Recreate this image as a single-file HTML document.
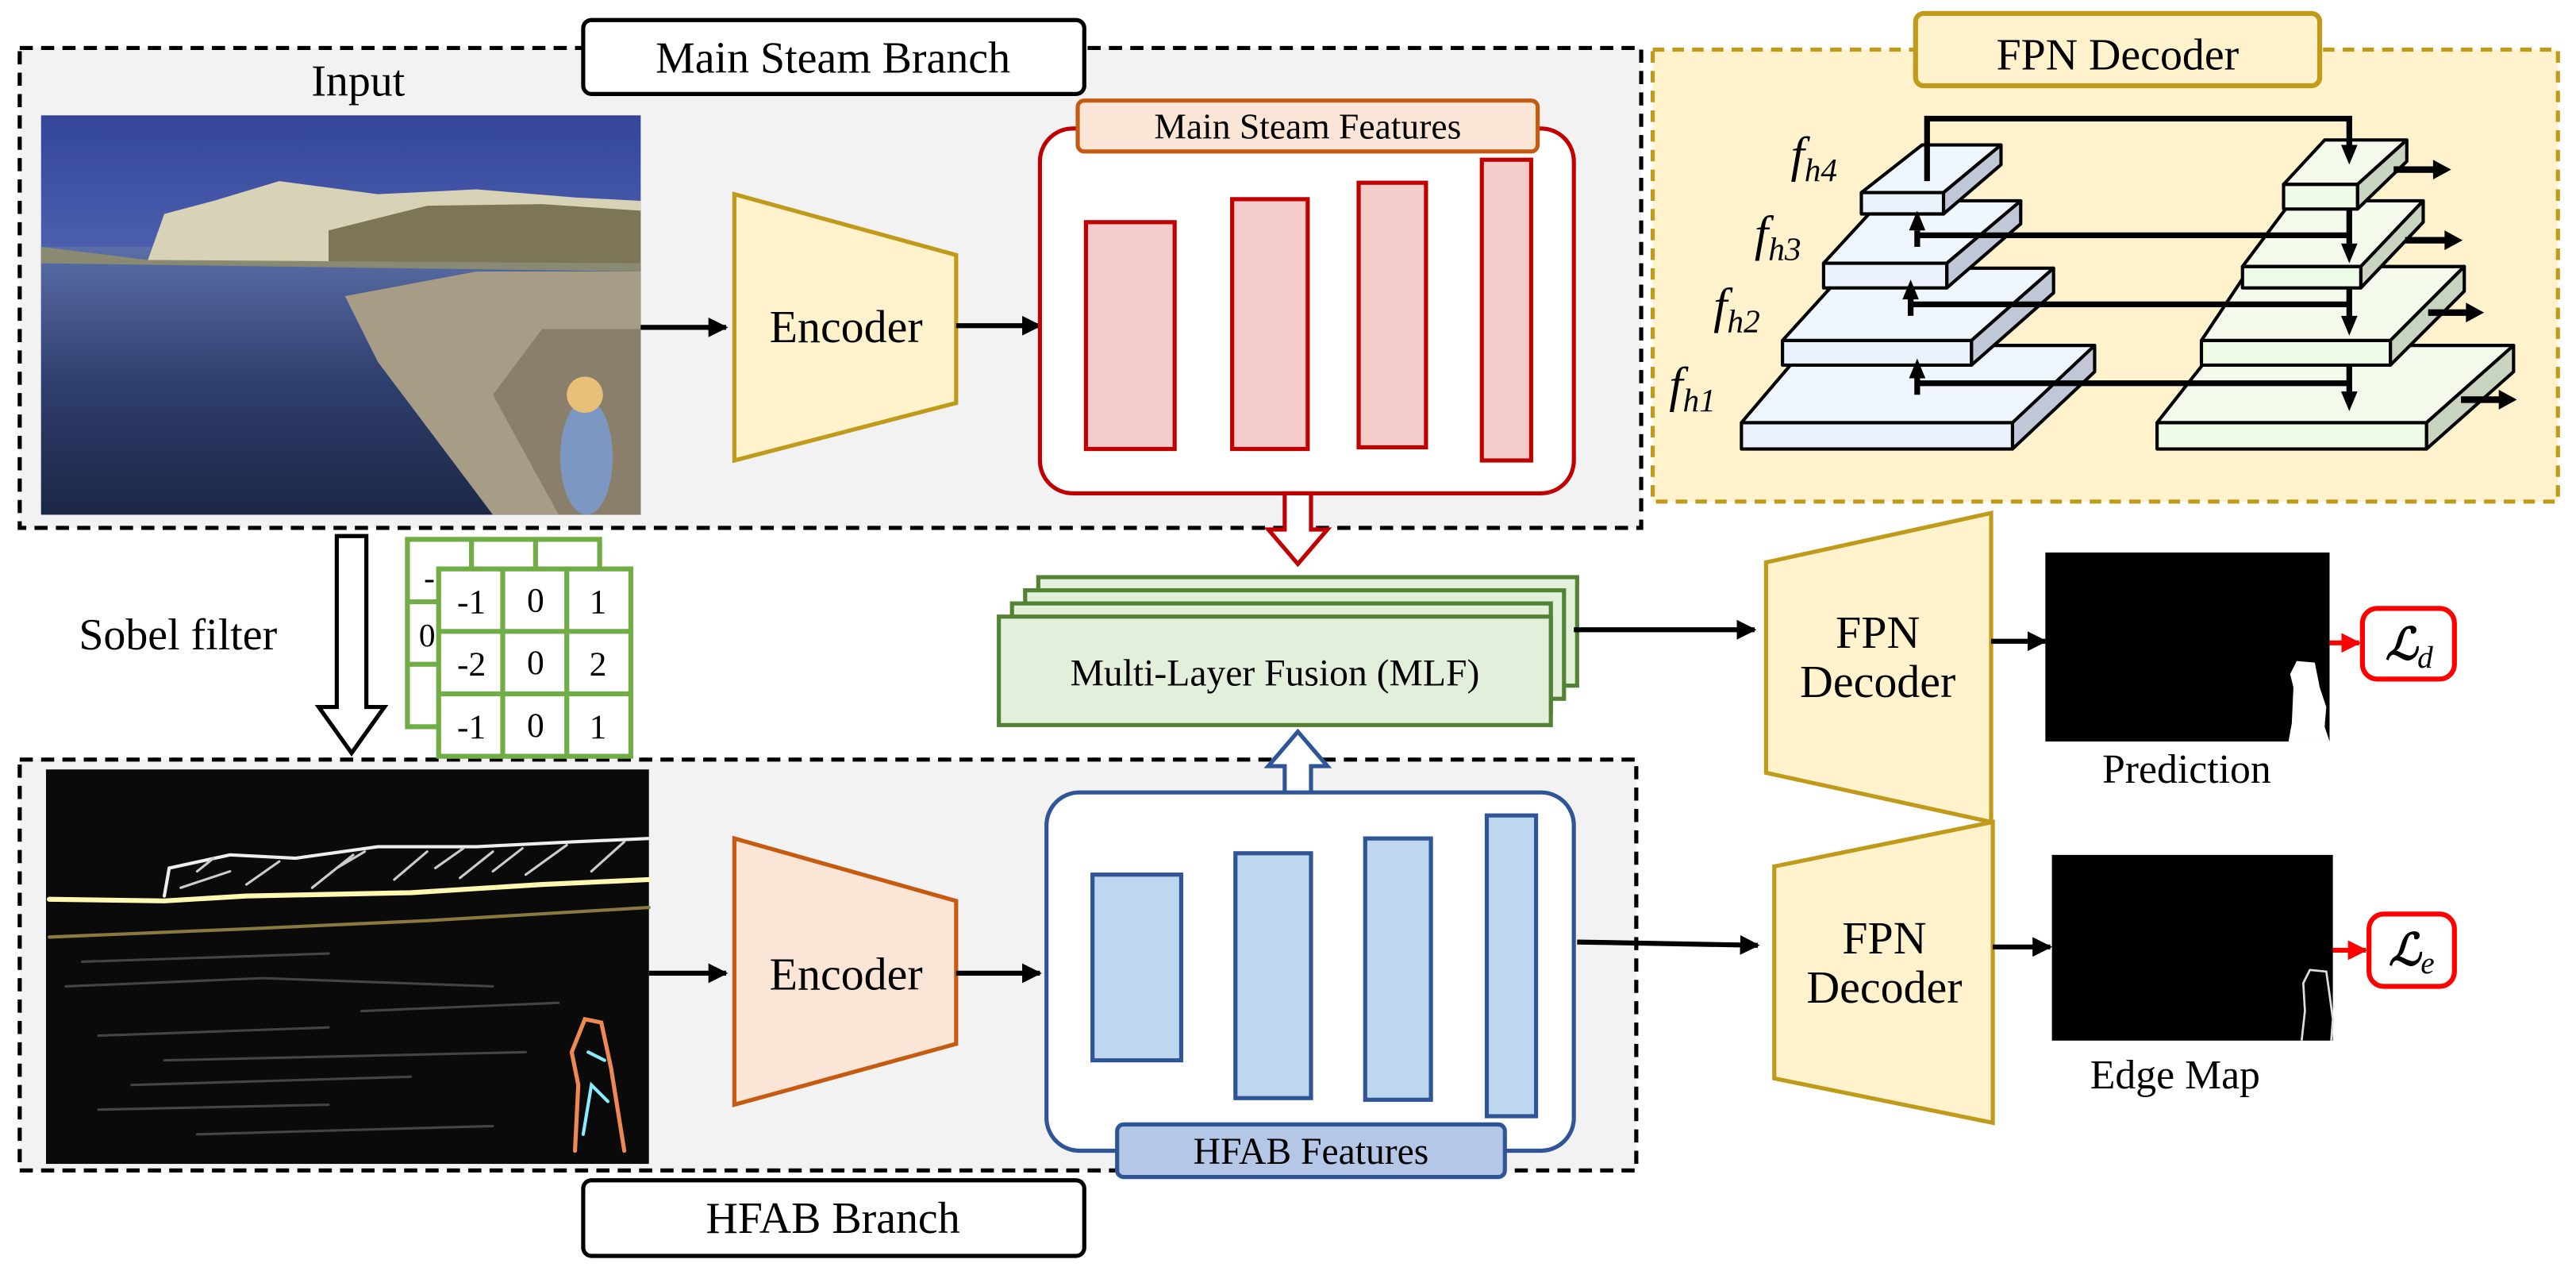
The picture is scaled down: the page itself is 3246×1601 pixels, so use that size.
<!DOCTYPE html>
<html><head><meta charset="utf-8"><style>
html,body{margin:0;padding:0;background:#fff;}
svg{display:block;}
</style></head><body>
<svg width="3246" height="1601" viewBox="0 0 1568 773" xmlns="http://www.w3.org/2000/svg" font-family="'Liberation Serif', 'DejaVu Serif', serif">
<defs>
<marker id="ah" viewBox="0 0 10 10" refX="9" refY="5" markerWidth="4" markerHeight="4" orient="auto"><path d="M0,0L10,5L0,10z" fill="#000"/></marker>
<marker id="ahr" viewBox="0 0 10 10" refX="9" refY="5" markerWidth="4" markerHeight="4" orient="auto"><path d="M0,0L10,5L0,10z" fill="#f00"/></marker>
<linearGradient id="sky" x1="0" y1="0" x2="0" y2="1"><stop offset="0" stop-color="#34459a"/><stop offset="1" stop-color="#7d92d4"/></linearGradient>
<linearGradient id="sea" x1="0" y1="0" x2="0" y2="1"><stop offset="0" stop-color="#5a6fa8"/><stop offset="0.5" stop-color="#2f3f6e"/><stop offset="1" stop-color="#1c2746"/></linearGradient>
</defs>

<!-- Top dashed branch -->
<rect x="12" y="29" width="987" height="292" fill="#f2f2f2" stroke="#000" stroke-width="2.5" stroke-dasharray="8,5"/>
<rect x="355" y="12" width="305" height="45" rx="5" fill="#fff" stroke="#000" stroke-width="2.5"/>
<text x="507" y="44" font-size="27" text-anchor="middle">Main Steam Branch</text>
<text x="218" y="58" font-size="27" text-anchor="middle">Input</text>

<!-- Input photo -->
<g>
<rect x="25" y="70" width="365" height="243" fill="url(#sky)"/>
<rect x="25" y="150" width="365" height="163" fill="url(#sea)"/>
<path d="M90,158 L100,130 L130,122 L170,110 L230,118 L290,115 L350,120 L390,122 L390,162 L90,160z" fill="#d8d2b6"/>
<path d="M200,140 L260,125 L330,124 L390,128 L390,162 L200,160z" fill="#7d7656"/>
<path d="M25,150 L90,158 L390,160 L390,165 L25,160z" fill="#8a8a72"/>
<path d="M390,165 L290,165 L210,180 L230,220 L300,313 L390,313z" fill="#a79d86"/>
<path d="M390,200 L330,200 L300,240 L340,313 L390,313z" fill="#8a7f6a"/>
<ellipse cx="357" cy="278" rx="16" ry="35" fill="#7c98c2"/>
<circle cx="356" cy="240" r="11" fill="#e8c07a"/>
</g>

<line x1="390" y1="199" x2="442" y2="199" stroke="#000" stroke-width="3" marker-end="url(#ah)"/>
<path d="M447,118 L582,155 L582,245 L447,280z" fill="#fff2cc" stroke="#c09a1a" stroke-width="2.5"/>
<text x="515" y="208" font-size="28" text-anchor="middle">Encoder</text>
<line x1="582" y1="198" x2="633" y2="198" stroke="#000" stroke-width="3" marker-end="url(#ah)"/>

<rect x="633" y="78" width="325" height="222" rx="20" fill="#fff" stroke="#c00000" stroke-width="2.5"/>
<rect x="656" y="61" width="280" height="31" rx="4" fill="#fbe5d6" stroke="#c55a11" stroke-width="2.5"/>
<text x="796" y="84" font-size="22" text-anchor="middle">Main Steam Features</text>
<g fill="#f4cccc" stroke="#c00000" stroke-width="2.5">
<rect x="661" y="135" width="54" height="138"/>
<rect x="750" y="121" width="46" height="152"/>
<rect x="827" y="111" width="41" height="161"/>
<rect x="902" y="97" width="30" height="183"/>
</g>
<path d="M782,300 L798,300 L798,322 L808,322 L790,343 L772,322 L782,322z" fill="#fff" stroke="#c00000" stroke-width="2.5"/>

<!-- MLF stacked -->
<g fill="#e2efda" stroke="#548235" stroke-width="2.5">
<rect x="632" y="351" width="328" height="66"/>
<rect x="624" y="359" width="328" height="66"/>
<rect x="616" y="367" width="328" height="66"/>
<rect x="608" y="375" width="336" height="66"/>
</g>
<text x="776" y="417" font-size="23" text-anchor="middle">Multi-Layer Fusion (MLF)</text>
<line x1="958" y1="383" x2="1068" y2="383" stroke="#000" stroke-width="3" marker-end="url(#ah)"/>

<!-- FPN decoder 1 -->
<path d="M1075,342 L1212,312 L1212,500 L1075,470z" fill="#fff2cc" stroke="#c09a1a" stroke-width="2.5"/>
<text x="1143" y="394" font-size="28" text-anchor="middle">FPN</text>
<text x="1143" y="424" font-size="28" text-anchor="middle">Decoder</text>
<line x1="1212" y1="390" x2="1245" y2="390" stroke="#000" stroke-width="3" marker-end="url(#ah)"/>
<rect x="1245" y="336" width="173" height="115" fill="#000"/>
<path d="M1393,451 L1395,440 L1396,418 L1394,410 L1398,402 L1409,403 L1412,418 L1416,430 L1415,442 L1418,451z" fill="#fff"/>
<text x="1331" y="476" font-size="25" text-anchor="middle">Prediction</text>
<line x1="1418" y1="391" x2="1436" y2="391" stroke="#f00" stroke-width="3" marker-end="url(#ahr)"/>
<rect x="1438" y="370" width="56" height="43" rx="9" fill="#fff" stroke="#f00" stroke-width="3"/>
<text x="1452" y="401" font-size="27" font-style="italic" font-weight="bold">ℒ<tspan font-size="19" dy="5" font-weight="normal">d</tspan></text>

<!-- Bottom dashed branch -->
<rect x="12" y="462" width="984" height="250" fill="#f2f2f2" stroke="#000" stroke-width="2.5" stroke-dasharray="8,5"/>
<rect x="355" y="718" width="305" height="46" rx="5" fill="#fff" stroke="#000" stroke-width="2.5"/>
<text x="507" y="750" font-size="27" text-anchor="middle">HFAB Branch</text>

<!-- hollow blue arrow up -->
<path d="M782,484 L798,484 L798,466 L808,466 L790,445 L772,466 L782,466z" fill="#fff" stroke="#2f5597" stroke-width="2.5"/>

<!-- Edge image -->
<rect x="28" y="468" width="367" height="240" fill="#0a0a0a"/>
<g fill="none" stroke-linecap="round">
<path d="M30,547 L100,548 L150,545 L250,543 L330,538 L395,535" stroke="#fff8b0" stroke-width="3"/>
<path d="M100,545 L103,528 L140,520 L180,522 L230,515 L290,515 L350,512 L395,510" stroke="#eee" stroke-width="2"/>
<path d="M110,540 L140,530 M150,538 L170,524 M190,540 L215,520 M240,535 L260,518 M280,534 L300,518 M320,532 L345,514 M360,530 L380,512 M120,530 L130,522 M205,528 L222,518 M265,528 L282,516 M300,530 L318,516" stroke="#ccc" stroke-width="1.5"/>
<path d="M30,570 L150,565 L260,560 L395,552" stroke="#8a7a40" stroke-width="2"/>
<path d="M40,600 L160,595 L300,600 M60,630 L200,625 M80,660 L250,655 M120,690 L300,685 M50,585 L200,580 M220,615 L340,610 M100,645 L320,640 M60,675 L200,672" stroke="#444" stroke-width="1.5"/>
<path d="M350,700 L352,660 L348,640 L356,620 L366,622 L372,650 L380,700" stroke="#e85" stroke-width="2.5"/>
<path d="M355,690 L360,660 L370,670 M358,640 L368,645" stroke="#8ef" stroke-width="2"/>
</g>

<line x1="395" y1="592" x2="442" y2="592" stroke="#000" stroke-width="3" marker-end="url(#ah)"/>
<path d="M447,510 L582,548 L582,635 L447,672z" fill="#fbe5d6" stroke="#c55a11" stroke-width="2.5"/>
<text x="515" y="602" font-size="28" text-anchor="middle">Encoder</text>
<line x1="582" y1="592" x2="633" y2="592" stroke="#000" stroke-width="3" marker-end="url(#ah)"/>

<rect x="637" y="482" width="321" height="218" rx="20" fill="#fff" stroke="#2f5597" stroke-width="2.5"/>
<g fill="#bdd7ee" stroke="#2f5597" stroke-width="2.5">
<rect x="665" y="532" width="54" height="113"/>
<rect x="752" y="519" width="46" height="149"/>
<rect x="831" y="510" width="40" height="159"/>
<rect x="905" y="496" width="30" height="183"/>
</g>
<rect x="680" y="684" width="236" height="32" rx="4" fill="#b4c7e7" stroke="#2f5597" stroke-width="2.5"/>
<text x="798" y="708" font-size="23" text-anchor="middle">HFAB Features</text>
<line x1="960" y1="573" x2="1070" y2="575" stroke="#000" stroke-width="3" marker-end="url(#ah)"/>

<!-- FPN decoder 2 -->
<path d="M1080,527 L1213,500 L1213,683 L1080,656z" fill="#fff2cc" stroke="#c09a1a" stroke-width="2.5"/>
<text x="1147" y="580" font-size="28" text-anchor="middle">FPN</text>
<text x="1147" y="610" font-size="28" text-anchor="middle">Decoder</text>
<line x1="1213" y1="576" x2="1248" y2="576" stroke="#000" stroke-width="3" marker-end="url(#ah)"/>
<rect x="1249" y="520" width="171" height="113" fill="#000"/>
<path d="M1401,633 L1403,615 L1402,598 L1406,590 L1416,591 L1418,605 L1420,620 L1419,633" fill="none" stroke="#ddd" stroke-width="1.3"/>
<text x="1324" y="662" font-size="25" text-anchor="middle">Edge Map</text>
<line x1="1420" y1="578" x2="1440" y2="578" stroke="#f00" stroke-width="3" marker-end="url(#ahr)"/>
<rect x="1442" y="556" width="52" height="44" rx="9" fill="#fff" stroke="#f00" stroke-width="3"/>
<text x="1454" y="587" font-size="27" font-style="italic" font-weight="bold">ℒ<tspan font-size="19" dy="5" font-weight="normal">e</tspan></text>

<!-- Sobel -->
<text x="48" y="395" font-size="27">Sobel filter</text>
<path d="M205,326 L223,326 L223,430 L234,430 L214,458 L194,430 L205,430z" fill="#fff" stroke="#000" stroke-width="2.5"/>
<g stroke="#70ad47" stroke-width="3" fill="#fff">
<rect x="248" y="328" width="117" height="114"/>
<line x1="287" y1="328" x2="287" y2="442"/><line x1="326" y1="328" x2="326" y2="442"/>
<line x1="248" y1="366" x2="365" y2="366"/><line x1="248" y1="404" x2="365" y2="404"/>
</g>
<text x="258" y="358" font-size="20">-1</text><text x="300" y="358" font-size="20">-2</text><text x="340" y="358" font-size="20">-1</text>
<text x="255" y="393" font-size="20">0</text>
<g stroke="#70ad47" stroke-width="3" fill="#fff">
<rect x="267" y="346" width="117" height="114"/>
<line x1="306" y1="346" x2="306" y2="460"/><line x1="345" y1="346" x2="345" y2="460"/>
<line x1="267" y1="384" x2="384" y2="384"/><line x1="267" y1="422" x2="384" y2="422"/>
</g>
<g font-size="21" text-anchor="middle">
<text x="287" y="373">-1</text><text x="326" y="372">0</text><text x="364" y="373">1</text>
<text x="287" y="411">-2</text><text x="326" y="410">0</text><text x="364" y="411">2</text>
<text x="287" y="449">-1</text><text x="326" y="448">0</text><text x="364" y="449">1</text>
</g>

<!-- FPN Decoder panel -->
<rect x="1006" y="30" width="551" height="275" fill="#fff2cc" stroke="#c09a1a" stroke-width="2.5" stroke-dasharray="7,5"/>
<rect x="1166" y="8" width="246" height="44" rx="5" fill="#fff2cc" stroke="#c09a1a" stroke-width="3"/>
<text x="1289" y="42" font-size="27" text-anchor="middle">FPN  Decoder</text>

<g stroke="#000" stroke-width="2" stroke-linejoin="round">
<path d="M1060,257 L1100,210 L1275,210 L1235,257z" fill="#f0f6fd"/>
<path d="M1225,257 L1275,210 L1275,226 L1225,273z" fill="#c0c8d8"/>
<rect x="1060" y="257" width="165" height="16" fill="#eaf1fb"/>
<path d="M1085,207 L1125,163 L1250,163 L1200,207z" fill="#f0f6fd"/>
<path d="M1200,207 L1250,163 L1250,178 L1200,222z" fill="#c0c8d8"/>
<rect x="1085" y="207" width="115" height="15" fill="#eaf1fb"/>
<path d="M1110,160 L1145,122 L1230,122 L1185,160z" fill="#f0f6fd"/>
<path d="M1185,160 L1230,122 L1230,136 L1185,175z" fill="#c0c8d8"/>
<rect x="1110" y="160" width="75" height="15" fill="#eaf1fb"/>
<path d="M1133,117 L1170,88 L1218,88 L1183,117z" fill="#f0f6fd"/>
<path d="M1183,117 L1218,88 L1218,100 L1183,130z" fill="#c0c8d8"/>
<rect x="1133" y="117" width="50" height="13" fill="#eaf1fb"/>
<path d="M1313,257 L1350,210 L1530,210 L1477,257z" fill="#f3faec"/>
<path d="M1477,257 L1530,210 L1530,226 L1477,273z" fill="#c8d3c0"/>
<rect x="1313" y="257" width="164" height="16" fill="#eefbe6"/>
<path d="M1340,207 L1370,162 L1500,162 L1455,207z" fill="#f3faec"/>
<path d="M1455,207 L1500,162 L1500,177 L1455,222z" fill="#c8d3c0"/>
<rect x="1340" y="207" width="115" height="15" fill="#eefbe6"/>
<path d="M1365,162 L1395,122 L1475,122 L1437,162z" fill="#f3faec"/>
<path d="M1437,162 L1475,122 L1475,135 L1437,175z" fill="#c8d3c0"/>
<rect x="1365" y="162" width="72" height="13" fill="#eefbe6"/>
<path d="M1390,112 L1415,85 L1465,85 L1435,112z" fill="#f3faec"/>
<path d="M1435,112 L1465,85 L1465,98 L1435,127z" fill="#c8d3c0"/>
<rect x="1390" y="112" width="45" height="15" fill="#eefbe6"/>
</g>
<g stroke="#000" stroke-width="3.5" fill="none">
<path d="M1173,110 L1173,72 L1430,72 L1430,92"/>
<line x1="1167" y1="143" x2="1430" y2="143"/>
<line x1="1163" y1="185" x2="1430" y2="185"/>
<line x1="1167" y1="233" x2="1430" y2="233"/>
<line x1="1430" y1="127" x2="1430" y2="152"/>
<line x1="1430" y1="175" x2="1430" y2="196"/>
<line x1="1430" y1="222" x2="1430" y2="242"/>
<line x1="1167" y1="150" x2="1167" y2="140"/>
<line x1="1163" y1="192" x2="1163" y2="180"/>
<line x1="1167" y1="240" x2="1167" y2="228"/>
</g>
<g fill="#000">
<path d="M1425,88 L1435,88 L1430,100z"/>
<path d="M1425,148 L1435,148 L1430,160z"/>
<path d="M1425,192 L1435,192 L1430,204z"/>
<path d="M1425,238 L1435,238 L1430,250z"/>
<path d="M1162,140 L1172,140 L1167,128z"/>
<path d="M1158,182 L1168,182 L1163,170z"/>
<path d="M1162,230 L1172,230 L1167,218z"/>
</g>
<g stroke="#000" stroke-width="4">
<line x1="1457" y1="103" x2="1482" y2="103"/>
<line x1="1464" y1="146" x2="1489" y2="146"/>
<line x1="1478" y1="190" x2="1502" y2="190"/>
<line x1="1498" y1="243" x2="1522" y2="243"/>
</g>
<g fill="#000">
<path d="M1481,97 L1492,103 L1481,109z"/>
<path d="M1488,140 L1499,146 L1488,152z"/>
<path d="M1501,184 L1512,190 L1501,196z"/>
<path d="M1521,237 L1532,243 L1521,249z"/>
</g>
<g font-style="italic" font-size="30">
<text x="1090" y="104">f<tspan font-size="20" dy="6">h4</tspan></text>
<text x="1068" y="152">f<tspan font-size="20" dy="6">h3</tspan></text>
<text x="1043" y="196">f<tspan font-size="20" dy="6">h2</tspan></text>
<text x="1016" y="244">f<tspan font-size="20" dy="6">h1</tspan></text>
</g>
</svg>
</body></html>
